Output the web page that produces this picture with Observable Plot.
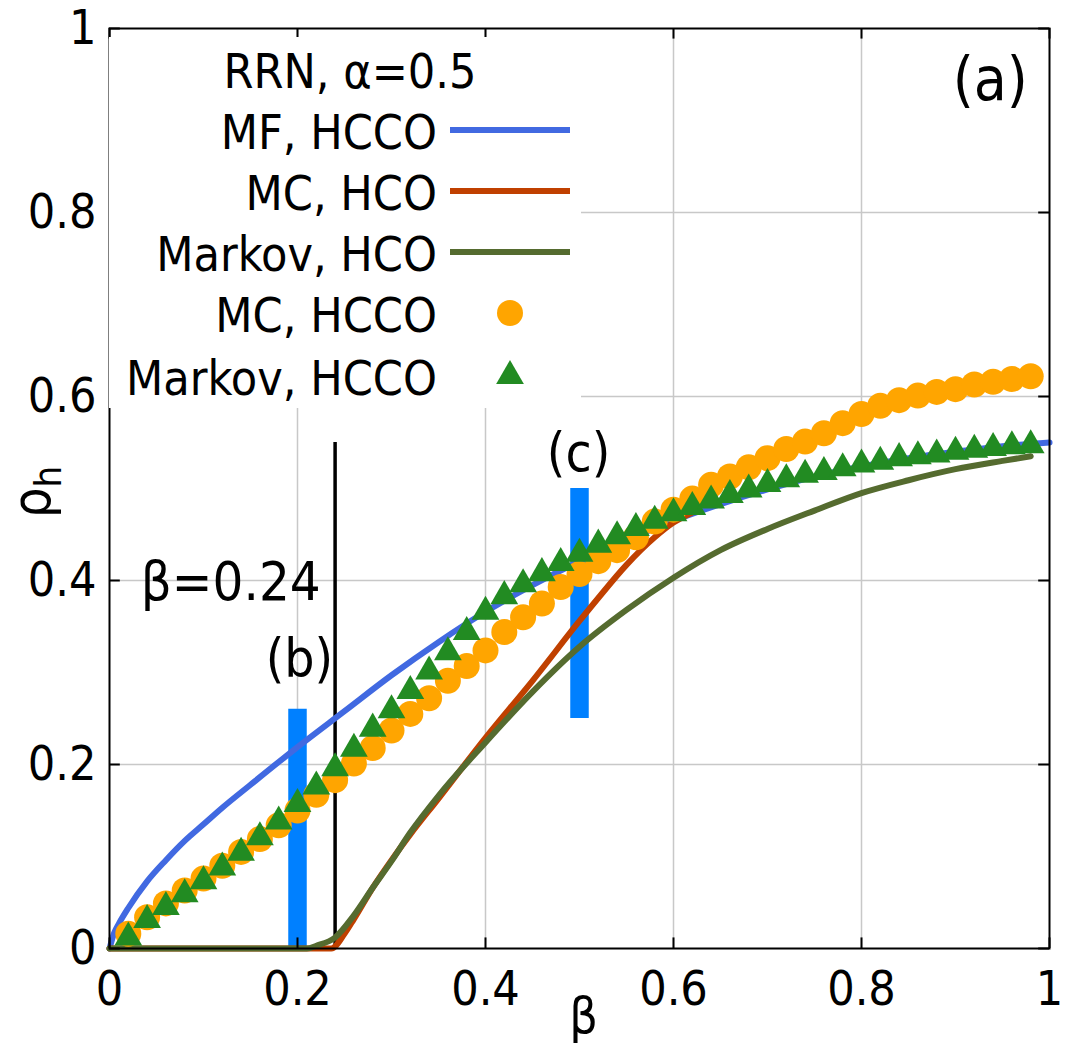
<!DOCTYPE html>
<html><head><meta charset="utf-8">
<script src="https://cdn.jsdelivr.net/npm/d3@7"></script>
<script src="https://cdn.jsdelivr.net/npm/@observablehq/plot@0.6"></script>
<style>body{margin:0;background:#fff;}</style>
</head><body><div id="chart"></div>
<script>
const FONT = '"DejaVu Sans Condensed", "DejaVu Sans", sans-serif';

// ---- data ----
const markerBeta = [0.02,0.04,0.06,0.08,0.10,0.12,0.14,0.16,0.18,0.20,0.22,0.24,0.26,0.28,0.30,0.32,0.34,0.36,0.38,0.40,0.42,0.44,0.46,0.48,0.50,0.52,0.54,0.56,0.58,0.60,0.62,0.64,0.66,0.68,0.70,0.72,0.74,0.76,0.78,0.80,0.82,0.84,0.86,0.88,0.90,0.92,0.94,0.96,0.98];
const mcHccoRho = [0.016,0.034,0.049,0.063,0.076,0.090,0.105,0.119,0.134,0.150,0.167,0.183,0.201,0.218,0.237,0.255,0.272,0.291,0.307,0.324,0.344,0.360,0.375,0.393,0.407,0.421,0.433,0.447,0.464,0.477,0.489,0.504,0.513,0.523,0.533,0.543,0.551,0.560,0.571,0.581,0.590,0.596,0.601,0.605,0.608,0.613,0.616,0.619,0.622];
const markovHccoRho = [0.012,0.031,0.045,0.059,0.073,0.088,0.104,0.121,0.138,0.157,0.176,0.196,0.217,0.239,0.259,0.280,0.301,0.322,0.344,0.366,0.383,0.396,0.408,0.419,0.429,0.439,0.448,0.457,0.465,0.473,0.480,0.487,0.493,0.499,0.505,0.510,0.515,0.518,0.522,0.526,0.529,0.533,0.535,0.537,0.540,0.542,0.544,0.546,0.547];

const mfBeta = [0,0.005,0.01,0.02,0.04,0.06,0.08,0.10,0.12,0.15,0.20,0.25,0.30,0.35,0.40,0.45,0.50,0.55,0.60,0.65,0.70,0.75,0.80,0.85,0.90,0.95,1.00];
const mfRho  = [0,0.017,0.027,0.044,0.073,0.096,0.117,0.135,0.153,0.178,0.219,0.258,0.297,0.333,0.366,0.395,0.421,0.444,0.465,0.483,0.499,0.513,0.524,0.533,0.540,0.546,0.550];

const mcHcoBeta = [0,0.236,0.25,0.26,0.28,0.30,0.32,0.35,0.40,0.45,0.50,0.52,0.55,0.58,0.60,0.62];
const mcHcoRho  = [0,0,0.016,0.032,0.066,0.096,0.124,0.163,0.229,0.291,0.356,0.381,0.417,0.447,0.463,0.474];

const markovHcoBeta = [0,0.21,0.22,0.24,0.26,0.28,0.30,0.32,0.35,0.40,0.45,0.50,0.55,0.60,0.65,0.70,0.75,0.80,0.85,0.90,0.95,0.98];
const markovHcoRho  = [0,0,0.003,0.012,0.036,0.066,0.095,0.126,0.166,0.224,0.279,0.328,0.368,0.403,0.433,0.456,0.476,0.495,0.509,0.521,0.530,0.535];

const barBeta = [0.2, 0.5];
const barLow  = [0, 0.25];
const barHigh = [0.26, 0.5];

const thresholdBeta = [0.24];
const thresholdTop  = [0.55];

const annText = ["(a)", "(b)", "(c)"];
const annBeta = [0.937, 0.202, 0.499];
const annRho  = [0.943, 0.314, 0.538];
const annSize = [60, 53, 53];

const thrLabel = ["β=0.24"];
const thrLabelBeta = [0.129];
const thrLabelRho = [0.398];

const xTicks = [0,0.2,0.4,0.6,0.8,1];
const xTickLabels = ["0","0.2","0.4","0.6","0.8","1"];
const yTicks = [0,0.2,0.4,0.6,0.8,1];
const yTickLabels = ["0","0.2","0.4","0.6","0.8","1"];
const gridTicks = [0.2,0.4,0.6,0.8];

const legendTitle = "RRN, α=0.5";
const legendLabels = ["MF, HCCO","MC, HCO","Markov, HCO","MC, HCCO","Markov, HCCO"];

const C_MF = "#4169e1", C_MCHCO = "#c04000", C_MKHCO = "#556b2f", C_MCHCCO = "#ffa500", C_MKHCCO = "#228b22", C_BAR = "#0080ff";
const R_CIRCLE = 13, R_TRI = 10.3;

// ---- tables ----
const mcHcco = markerBeta.map((b,i)=>({b, r: mcHccoRho[i]}));
const markovHcco = markerBeta.map((b,i)=>({b, r: markovHccoRho[i]}));
const mf = mfBeta.map((b,i)=>({b, r: mfRho[i]}));
const mcHco = mcHcoBeta.map((b,i)=>({b, r: mcHcoRho[i]}));
const markovHco = markovHcoBeta.map((b,i)=>({b, r: markovHcoRho[i]}));
const bars = barBeta.map((b,i)=>({b, lo: barLow[i], hi: barHigh[i]}));
const thr = thresholdBeta.map((b,i)=>({b, hi: thresholdTop[i]}));
const ann = annText.map((t,i)=>({t, b: annBeta[i], r: annRho[i], s: annSize[i]}));
const thrLab = thrLabel.map((t,i)=>({t, b: thrLabelBeta[i], r: thrLabelRho[i]}));

const TL = 0.0115; // inward tick length in data units
const plot = Plot.plot({
  width: 1067, height: 1053,
  marginLeft: 109, marginRight: 18, marginTop: 28, marginBottom: 105,
  style: {fontFamily: FONT, fontSize: "48px", color: "#000", background: "#fff", overflow: "visible"},
  x: {domain: [0, 1]},
  y: {domain: [0, 1]},
  marks: [
    Plot.ruleX(gridTicks, {stroke: "#c8c8c8", strokeWidth: 1.5}),
    Plot.ruleY(gridTicks, {stroke: "#c8c8c8", strokeWidth: 1.5}),
    Plot.ruleX(bars, {x: "b", y1: "lo", y2: "hi", stroke: C_BAR, strokeWidth: 18.5, ariaLabel: "bars"}),
    Plot.ruleX(thr, {x: "b", y1: 0, y2: "hi", stroke: "#000", strokeWidth: 3.5}),
    Plot.line(mf, {x: "b", y: "r", stroke: C_MF, strokeWidth: 6, curve: "monotone-x"}),
    Plot.line(mcHco, {x: "b", y: "r", stroke: C_MCHCO, strokeWidth: 6, curve: "monotone-x"}),
    Plot.line(markovHco, {x: "b", y: "r", stroke: C_MKHCO, strokeWidth: 6, curve: "monotone-x"}),
    Plot.dot(mcHcco, {x: "b", y: "r", r: R_CIRCLE, fill: C_MCHCCO, stroke: "none"}),
    Plot.dot(markovHcco, {x: "b", y: "r", r: R_TRI, symbol: "triangle", fill: C_MKHCCO, stroke: "none"}),
    Plot.text(ann, {x: "b", y: "r", text: "t", fontSize: d => d.s, fill: "#000"}),
    Plot.text(thrLab, {x: "b", y: "r", text: "t", fontSize: 54, fill: "#000"}),
    // inward ticks (mirrored)
    Plot.ruleX(xTicks, {y1: 0, y2: TL, stroke: "#000", strokeWidth: 2}),
    Plot.ruleX(xTicks, {y1: 1, y2: 1 - TL, stroke: "#000", strokeWidth: 2}),
    Plot.ruleY(yTicks, {x1: 0, x2: TL, stroke: "#000", strokeWidth: 2}),
    Plot.ruleY(yTicks, {x1: 1, x2: 1 - TL, stroke: "#000", strokeWidth: 2}),
    Plot.frame({stroke: "#000", strokeWidth: 2}),
    Plot.axisX(xTicks, {anchor: "bottom", tickSize: 0, tickPadding: 22, label: null, tickFormat: d => xTickLabels[xTicks.indexOf(d)]}),
    Plot.axisY(yTicks, {anchor: "left", tickSize: 0, tickPadding: 13, label: null, tickFormat: d => yTickLabels[yTicks.indexOf(d)]}),
    Plot.text(["β"], {frameAnchor: "bottom", dx: 4, dy: 84, fontSize: 50, fill: "#000"})
  ]
});
document.getElementById("chart").appendChild(plot);

const svg = d3.select(plot);
// y label with subscript
const yl = svg.append("text")
  .attr("transform", "translate(50,492) rotate(-90)")
  .attr("text-anchor", "middle")
  .attr("font-family", FONT).attr("font-size", 54).attr("fill", "#000");
yl.append("tspan").text("ρ");
yl.append("tspan").attr("font-size", 38).attr("dy", "0.28em").text("h");

// legend inserted beneath the data marks
const leg = svg.insert("g", 'g[aria-label="bars"]').attr("font-family", FONT).attr("font-size", 48).attr("fill", "#000");
leg.append("rect").attr("x", 109).attr("y", 37).attr("width", 472).attr("height", 371).attr("fill", "#fff");
leg.append("text").attr("x", 350).attr("y", 88).attr("text-anchor", "middle").text(legendTitle);
const rowY = [130, 191, 252, 313, 376];
legendLabels.forEach((l, i) => {
  leg.append("text").attr("x", 437).attr("y", rowY[i] + 19).attr("text-anchor", "end").text(l);
});
const lineColors = [C_MF, C_MCHCO, C_MKHCO];
lineColors.forEach((c, i) => {
  leg.append("line").attr("x1", 450).attr("x2", 570).attr("y1", rowY[i]).attr("y2", rowY[i]).attr("stroke", c).attr("stroke-width", 6);
});
leg.append("circle").attr("cx", 510).attr("cy", rowY[3]).attr("r", R_CIRCLE).attr("fill", C_MCHCCO);
leg.append("path").attr("d", d3.symbol(d3.symbolTriangle, Math.PI * R_TRI * R_TRI)()).attr("transform", `translate(510,${rowY[4]})`).attr("fill", C_MKHCCO);
</script>
</body></html>
